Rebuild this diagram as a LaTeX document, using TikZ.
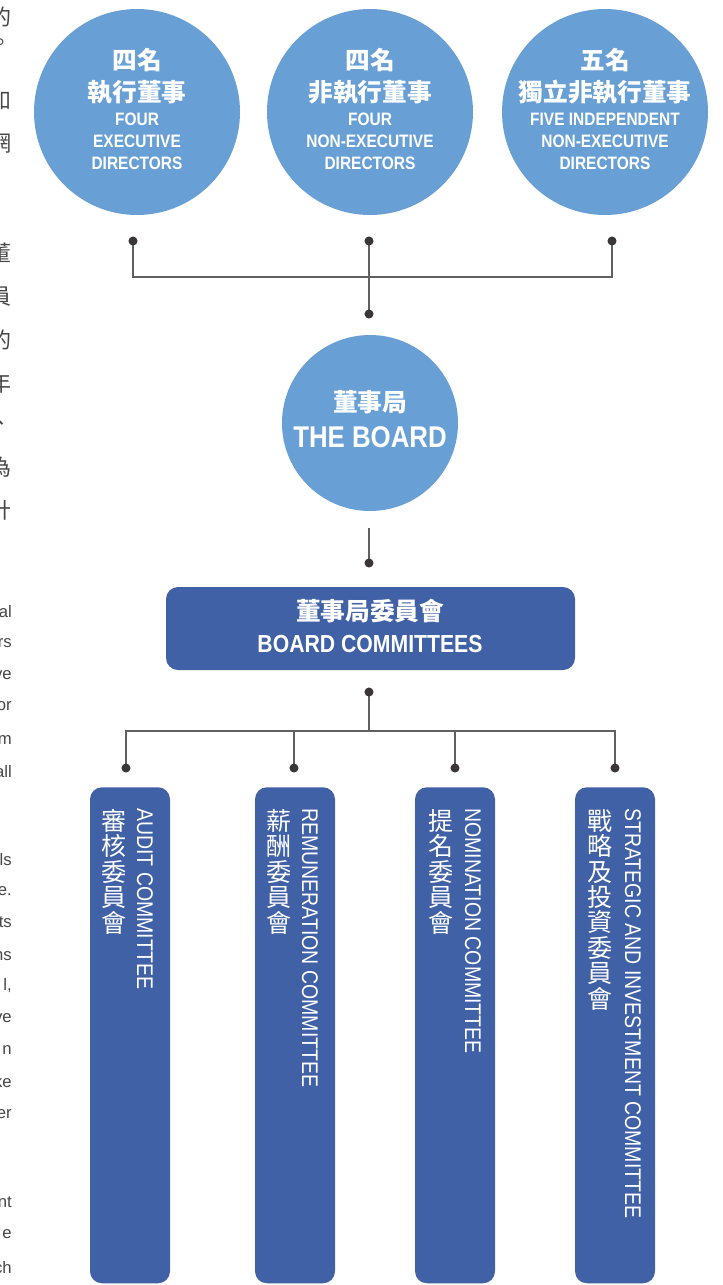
\documentclass[tikz,border=0pt]{standalone}
\usepackage{fontspec}
\setmainfont{Liberation Sans}
\newfontfamily\cjk{Noto Sans CJK TC}
\newfontfamily\cond{Liberation Sans}[FakeStretch=0.86]
\definecolor{lightblue}{RGB}{104,160,213}
\definecolor{darkblue}{RGB}{64,97,166}
\definecolor{linec}{RGB}{96,96,96}
\definecolor{dotc}{RGB}{58,54,54}
\definecolor{fragc}{RGB}{70,70,70}
\begin{document}
\begin{tikzpicture}[x=0.75pt,y=-0.75pt,
  dircircle/.style={circle,fill=lightblue,draw=none,minimum size=154.5pt,inner sep=0},
  boardcircle/.style={circle,fill=lightblue,draw=none,minimum size=132pt,inner sep=0},
  cbox/.style={rectangle,rounded corners=9pt,fill=darkblue,draw=none,minimum width=306.75pt,minimum height=62.25pt,inner sep=0},
  bar/.style={rectangle,rounded corners=9pt,fill=darkblue,draw=none,minimum width=60pt,minimum height=372pt,inner sep=0,anchor=north},
  conn/.style={draw=linec,line width=1.1pt},
  dotfill/.style={fill=dotc},
  zhbig/.style={font=\cjk\bfseries\fontsize{18.5}{24}\selectfont,text=white,align=center,inner sep=0},
  encirc/.style={font=\cond\bfseries\fontsize{13.5}{16.5}\selectfont,text=white,align=center,inner sep=0},
  enbig/.style={font=\cond\bfseries\fontsize{22.5}{26}\selectfont,text=white,inner sep=0},
  enbox/.style={font=\cond\bfseries\fontsize{18.5}{22}\selectfont,text=white,inner sep=0},
  zhvert/.style={font=\cjk\fontsize{18.75}{19.1}\selectfont,text=white,align=center,inner sep=0,anchor=north},
  envert/.style={font=\cond\fontsize{17}{20}\selectfont,text=white,inner sep=0,rotate=-90,anchor=west},
  fragzh/.style={font=\cjk\fontsize{16.5}{16.5}\selectfont,text=fragc,inner sep=0},
  fragen/.style={font=\fontsize{12.5}{14}\selectfont,text=fragc,inner sep=0,anchor=east}
]
\useasboundingbox (0,0) rectangle (722,1285);
\clip (0,0) rectangle (722,1285);

% cropped text fragments at the left edge
\node[fragzh] (fz1) at (1,17) {的};
\node[fragzh] (fz2) at (1,45) {。};
\node[fragzh] (fz3) at (1,100) {如};
\node[fragzh] (fz4) at (1,143) {網};
\node[fragzh] (fz5) at (1,253) {董};
\node[fragzh] (fz6) at (1,297) {員};
\node[fragzh] (fz7) at (1,340) {的};
\node[fragzh] (fz8) at (1,383) {年};
\node[fragzh] (fz9) at (1,425) {、};
\node[fragzh] (fz10) at (1,467) {為};
\node[fragzh] (fz11) at (1,510) {計};
\node[fragen] (fe1) at (12,612) {al};
\node[fragen] (fe2) at (12,643) {rs};
\node[fragen] (fe3) at (12,675) {ve};
\node[fragen] (fe4) at (12,706) {or};
\node[fragen] (fe5) at (12,740) {m};
\node[fragen] (fe6) at (12,772) {all};
\node[fragen] (fe7) at (12,860) {ls};
\node[fragen] (fe8) at (12,891) {e.};
\node[fragen] (fe9) at (12,922) {ts};
\node[fragen] (fe10) at (12,956) {ns};
\node[fragen] (fe11) at (12,986) {l,};
\node[fragen] (fe12) at (12,1018) {ve};
\node[fragen] (fe13) at (12,1050) {n};
\node[fragen] (fe14) at (12,1082) {ke};
\node[fragen] (fe15) at (12,1114) {er};
\node[fragen] (fe16) at (12,1202) {nt};
\node[fragen] (fe17) at (12,1234) {e};
\node[fragen] (fe18) at (12,1268) {ch};

% director circles
\node[dircircle] (c1) at (137,112) {};
\node[dircircle] (c2) at (370,112) {};
\node[dircircle] (c3) at (605,112) {};
\node[zhbig] (c1zh) at (137,76) {四名\\執行董事};
\node[encirc] (c1en) at (137,141) {FOUR\\EXECUTIVE\\DIRECTORS};
\node[zhbig] (c2zh) at (370,76) {四名\\非執行董事};
\node[encirc] (c2en) at (370,141) {FOUR\\NON-EXECUTIVE\\DIRECTORS};
\node[zhbig] (c3zh) at (605,76) {五名\\獨立非執行董事};
\node[encirc] (c3en) at (605,141) {FIVE INDEPENDENT\\NON-EXECUTIVE\\DIRECTORS};

% board
\node[boardcircle] (board) at (370,423) {};
\node[zhbig] (boardzh) at (370,402) {董事局};
\node[enbig] (boarden) at (370,437) {THE BOARD};

% board committees
\node[cbox] (bc) at (370.5,628.5) {};
\node[zhbig] (bczh) at (370,611) {董事局委員會};
\node[enbox] (bcen) at (370,644) {BOARD COMMITTEES};

% committee bars
\node[bar] (k1) at (130,787) {};
\node[bar] (k2) at (295,787) {};
\node[bar] (k3) at (455,787) {};
\node[bar] (k4) at (615,787) {};
\node[zhvert] (k1zh) at (113.5,809) {審\\核\\委\\員\\會};
\node[envert] (k1en) at (145,808) {AUDIT COMMITTEE};
\node[zhvert] (k2zh) at (278.5,809) {薪\\酬\\委\\員\\會};
\node[envert] (k2en) at (310,808) {REMUNERATION COMMITTEE};
\node[zhvert] (k3zh) at (440.5,809) {提\\名\\委\\員\\會};
\node[envert] (k3en) at (473,808) {NOMINATION COMMITTEE};
\node[zhvert] (k4zh) at (600,809) {戰\\略\\及\\投\\資\\委\\員\\會};
\node[envert] (k4en) at (633,808) {STRATEGIC AND INVESTMENT COMMITTEE};

% connectors
\coordinate (p1) at (133,241);
\coordinate (p2) at (369,241);
\coordinate (p3) at (612,241);
\coordinate (j1) at (369,277);
\coordinate (p4) at (369,314);
\coordinate (q0) at (369,528);
\coordinate (q1) at (369,563);
\coordinate (r0) at (369,692);
\coordinate (j2) at (369,731);
\coordinate (s1) at (126,768);
\coordinate (s2) at (294,768);
\coordinate (s3) at (455,768);
\coordinate (s4) at (615,768);

\draw[conn] (p1) |- (j1) -| (p3);
\draw[conn] (p2) -- (p4);
\draw[conn] (q0) -- (q1);
\draw[conn] (r0) -- (j2);
\draw[conn] (s1) |- (j2) -| (s4);
\draw[conn] (s2) -- (s2 |- j2);
\draw[conn] (s3) -- (s3 |- j2);

\foreach \d in {p1,p2,p3,p4,q1,r0,s1,s2,s3,s4}
  \fill[dotfill] (\d) circle (3.4pt);
\end{tikzpicture}
\end{document}
